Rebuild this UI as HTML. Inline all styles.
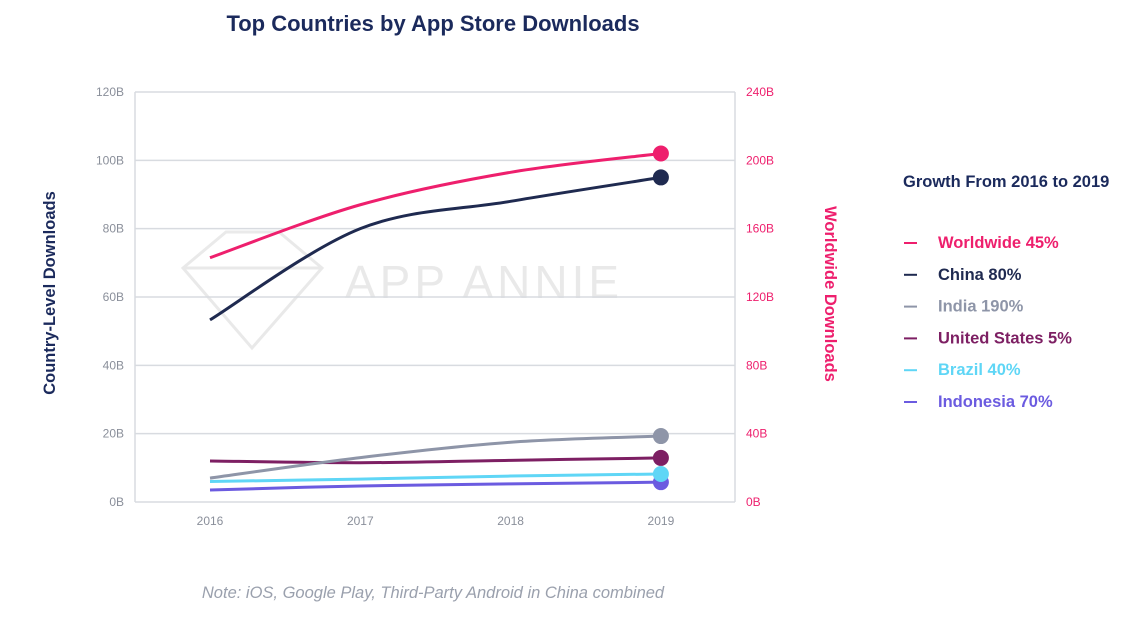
<!DOCTYPE html>
<html><head><meta charset="utf-8"><style>
html,body{margin:0;padding:0;background:#fff;width:1133px;height:639px;overflow:hidden;font-family:"Liberation Sans",sans-serif}
</style></head><body>
<svg id="chart" width="1133" height="639" xmlns="http://www.w3.org/2000/svg">
<text x="433" y="31" text-anchor="middle" font-size="22" font-weight="bold" fill="#1b2a5c">Top Countries by App Store Downloads</text>
<g opacity="0.12" fill="none" stroke="#555" stroke-width="3">
<polygon points="183,268 226,232 279,232 322,268 252,348"/>
<polyline points="183,268 322,268"/>
<text x="345" y="298" font-size="46" fill="#555" stroke="none" letter-spacing="4">APP ANNIE</text>
</g>
<g id="grid"></g>
<g id="marks"></g>
<text transform="translate(55,293) rotate(-90)" text-anchor="middle" font-size="16.5" font-weight="bold" fill="#1b2a5c">Country-Level Downloads</text>
<text transform="translate(825,294) rotate(90)" text-anchor="middle" font-size="16.5" font-weight="bold" fill="#ee1f6d">Worldwide Downloads</text>
<text x="903" y="187" font-size="16.5" font-weight="bold" fill="#1b2a5c">Growth From 2016 to 2019</text>
<g id="legend"></g>
<text x="433" y="598" text-anchor="middle" font-size="16.5" font-style="italic" fill="#9aa0ad">Note: iOS, Google Play, Third-Party Android in China combined</text>
</svg>
<script>
const years = ["2016","2017","2018","2019"];
const leftTicks = ["0B","20B","40B","60B","80B","100B","120B"];
const rightTicks = ["0B","40B","80B","120B","160B","200B","240B"];
const worldwide = [143, 174, 193, 204];
const china = [53.3, 80, 88, 95];
const india = [7, 13, 17.5, 19.3];
const usa = [12, 11.5, 12.2, 12.9];
const brazil = [6, 6.7, 7.6, 8.2];
const indonesia = [3.5, 4.7, 5.3, 5.8];
const legendLabels = ["Worldwide 45%","China 80%","India 190%","United States 5%","Brazil 40%","Indonesia 70%"];

const NS="http://www.w3.org/2000/svg";
const X0=135,X1=735,Y0=502,Y1=92;
const xs=i=>210+i*150.3;
const yL=v=>Y0-(v/120)*(Y0-Y1);
const yR=v=>Y0-(v/240)*(Y0-Y1);
function mk(t,a,p){const e=document.createElementNS(NS,t);for(const k in a)e.setAttribute(k,a[k]);p.appendChild(e);return e;}
const grid=document.getElementById('grid');
leftTicks.forEach((t,i)=>{
  const y=yL(i*20);
  const l=mk('line',{x1:X0,x2:X1,y1:y,y2:y,stroke:'#d8dbe0','stroke-width':1.5},grid);
  
  
  const a=mk('text',{x:124,y:y+4,'text-anchor':'end','font-size':12,fill:'#8a8f9a'},grid);a.textContent=t;
  
  
  const b=mk('text',{x:746,y:y+4,'font-size':12,fill:'#ee1f6d'},grid);b.textContent=rightTicks[i];
  
  
});
[X0,X1].forEach(x=>{const l=mk('line',{x1:x,x2:x,y1:Y1,y2:Y0,stroke:'#d8dbe0','stroke-width':1.5},grid);
  
  });
years.forEach((y,i)=>{const t=mk('text',{x:xs(i),y:525,'text-anchor':'middle','font-size':12,fill:'#8a8f9a'},grid);t.textContent=y;
  
  });
function path(pts){
  let d=`M${pts[0][0]},${pts[0][1]}`;
  for(let i=0;i<pts.length-1;i++){
    const p0=pts[Math.max(0,i-1)],p1=pts[i],p2=pts[i+1],p3=pts[Math.min(pts.length-1,i+2)];
    const c1=[p1[0]+(p2[0]-p0[0])/6,p1[1]+(p2[1]-p0[1])/6],c2=[p2[0]-(p3[0]-p1[0])/6,p2[1]-(p3[1]-p1[1])/6];
    d+=` C${c1[0]},${c1[1]} ${c2[0]},${c2[1]} ${p2[0]},${p2[1]}`;
  }
  return d;
}
const series=[[indonesia,'#6b5be0',yL,'indonesia'],[brazil,'#5fd6f6',yL,'brazil'],[usa,'#7d1f63',yL,'united-states'],[india,'#8e95a8',yL,'india'],[china,'#1f2a50',yL,'china'],[worldwide,'#ee1f6d',yR,'worldwide']];
const marks=document.getElementById('marks');
series.forEach(([vals,c,fy,n])=>{
  const pts=vals.map((v,i)=>[xs(i),fy(v)]);
  const p=mk('path',{d:path(pts),fill:'none',stroke:c,'stroke-width':3},marks);
  
  
  const last=pts[pts.length-1];
  const dot=mk('circle',{cx:last[0],cy:last[1],r:8,fill:c},marks);
  
  
});
const lg=document.getElementById('legend');
const lc=['#ee1f6d','#1f2a50','#8e95a8','#7d1f63','#5fd6f6','#6b5be0'];
legendLabels.forEach((t,i)=>{
  const y=248+i*31.8;
  const g=mk('g',{},lg);
  
  
  mk('line',{x1:904,x2:917,y1:y-5,y2:y-5,stroke:lc[i],'stroke-width':2},g);
  const tx=mk('text',{x:938,y:y,'font-size':16.5,'font-weight':'bold',fill:lc[i]},g);tx.textContent=t;
});
</script>
</body></html>
